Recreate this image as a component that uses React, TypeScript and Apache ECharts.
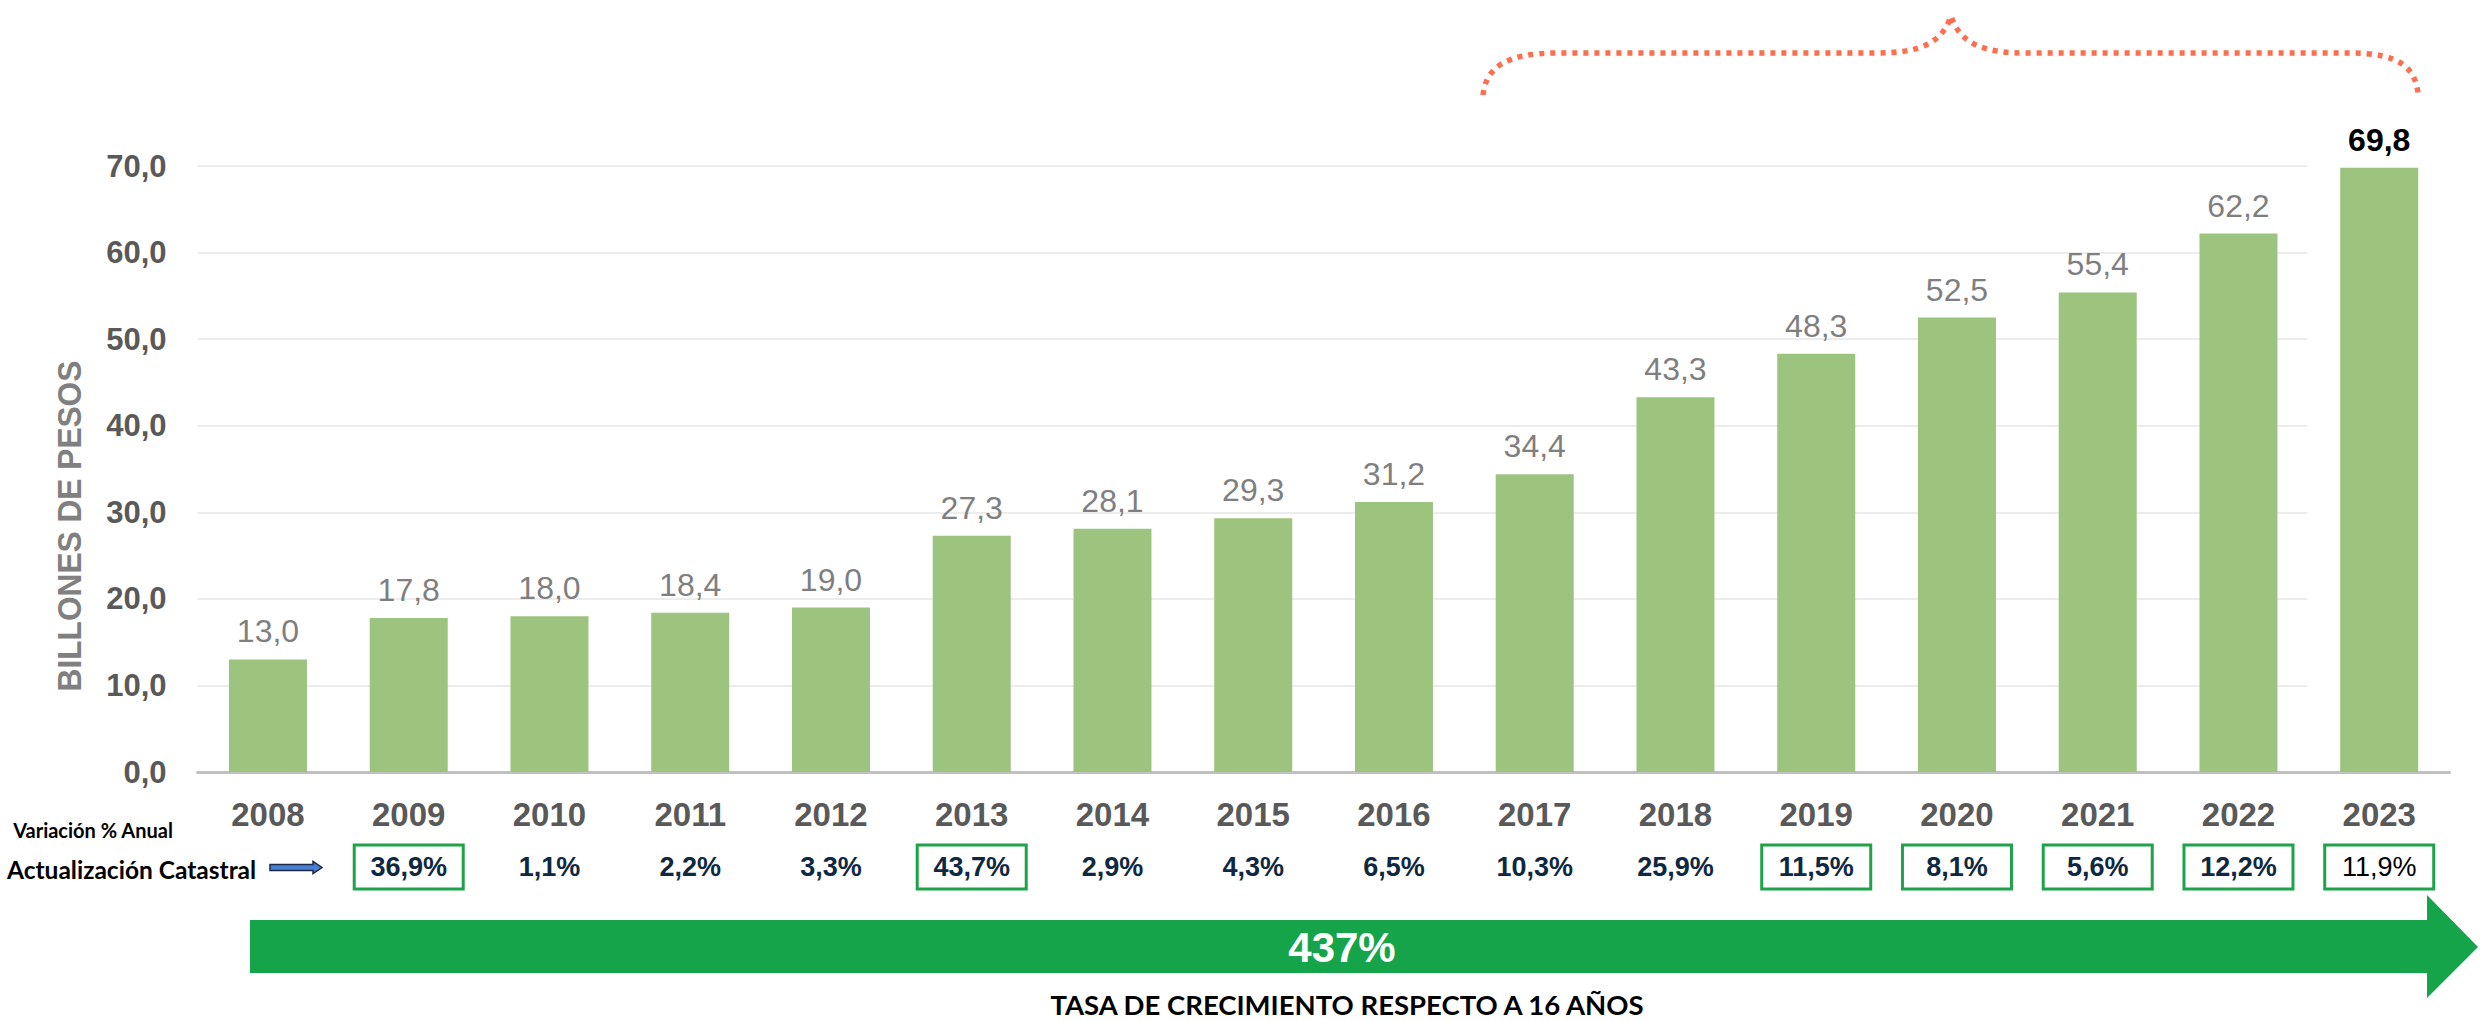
import { useEffect, useRef } from "react";
import * as echarts from "echarts";

// ---------- data ----------
const years = ["2008", "2009", "2010", "2011", "2012", "2013", "2014", "2015", "2016", "2017", "2018", "2019", "2020", "2021", "2022", "2023"];
const values = [13.0, 17.8, 18.0, 18.4, 19.0, 27.3, 28.1, 29.3, 31.2, 34.4, 43.3, 48.3, 52.5, 55.4, 62.2, 69.8];
const variation: (number | null)[] = [null, 36.9, 1.1, 2.2, 3.3, 43.7, 2.9, 4.3, 6.5, 10.3, 25.9, 11.5, 8.1, 5.6, 12.2, 11.9];
const boxedYears = ["2009", "2013", "2019", "2020", "2021", "2022", "2023"];
const highlightYear = "2023";
const yMin = 0;
const yMax = 70;
const yInterval = 10;
const yTitle = "BILLONES DE PESOS";
const rowTitle1 = "Variación % Anual";
const rowTitle2 = "Actualización Catastral";
const totalGrowth = "437%";
const footer = "TASA DE CRECIMIENTO RESPECTO A 16 AÑOS";

const fmt = (v: number) => v.toFixed(1).replace(".", ",");

const BRACE_D =
  "M1483,95 C1486,68 1505,53 1558,53 L1876,53 C1918,53 1942,44 1951,16 C1960,44 1984,53 2026,53 L2350,53 C2400,53 2415,68 2418,93";
echarts.graphic.registerShape("brace", echarts.graphic.extendPath(BRACE_D, {}));

const FONT = "'Liberation Sans', Arial, sans-serif";
const CAL = "Lato, 'Open Sans', sans-serif";

export default function App() {
  const ref = useRef<HTMLDivElement>(null);
  useEffect(() => {
    if (!ref.current) return;
    const chart = echarts.init(ref.current, null, { renderer: "svg" });
    const gridLeft = 197.6;
    const gridRight = 31.4;
    const gridTop = 166;
    const gridBottom = 249;
    chart.setOption({
      animation: false,
      backgroundColor: "#ffffff",
      textStyle: { fontFamily: FONT },
      grid: [
        { left: gridLeft, right: gridRight, top: gridTop, bottom: gridBottom },
        { left: gridLeft, right: 174, top: gridTop, bottom: gridBottom },
      ],
      xAxis: [
        {
          type: "category",
          gridIndex: 0,
          data: years,
          axisLine: { show: true, lineStyle: { color: "#c0c0c0", width: 3 } },
          axisTick: { show: false },
          axisLabel: {
            interval: 0,
            margin: 26,
            fontSize: 33,
            fontWeight: "bold",
            color: "#595959",
            fontFamily: FONT,
          },
        },
        {
          type: "category",
          gridIndex: 0,
          position: "bottom",
          offset: 60,
          data: years,
          axisLine: { show: false },
          axisTick: { show: false },
          axisLabel: {
            interval: 0,
            margin: 13,
            formatter: (val: string, idx: number) => {
              const v = variation[idx];
              if (v === null || v === undefined) return "";
              const t = fmt(v) + "%";
              if (val === highlightYear) return "{hbox|" + t + "}";
              if (boxedYears.includes(val)) return "{box|" + t + "}";
              return "{plain|" + t + "}";
            },
            rich: {
              box: {
                width: 109,
                height: 44,
                lineHeight: 44,
                align: "center",
                borderColor: "#1fa34a",
                borderWidth: 3,
                fontSize: 27,
                fontWeight: "bold",
                color: "#0e2841",
                fontFamily: FONT,
              },
              hbox: {
                width: 109,
                height: 44,
                lineHeight: 44,
                align: "center",
                borderColor: "#1fa34a",
                borderWidth: 3,
                fontSize: 27,
                fontWeight: "normal",
                color: "#000000",
                fontFamily: FONT,
              },
              plain: {
                height: 44,
                lineHeight: 44,
                align: "center",
                fontSize: 27,
                fontWeight: "bold",
                color: "#0e2841",
                fontFamily: FONT,
              },
            },
          },
        },
        { type: "value", gridIndex: 1, min: 0, max: 1, show: false },
      ],
      yAxis: [
        {
          type: "value",
          gridIndex: 0,
          min: yMin,
          max: yMax,
          interval: yInterval,
          splitLine: { show: false },
          axisLine: { show: false },
          axisTick: { show: false },
          axisLabel: {
            margin: 31,
            fontSize: 31,
            fontWeight: "bold",
            color: "#595959",
            fontFamily: FONT,
            formatter: (v: number) => fmt(v),
          },
        },
        {
          type: "value",
          gridIndex: 1,
          min: yMin,
          max: yMax,
          interval: yInterval,
          axisLine: { show: false },
          axisTick: { show: false },
          axisLabel: { show: false },
          splitLine: { show: true, lineStyle: { color: "#ececec", width: 2 } },
        },
      ],
      series: [
        {
          type: "bar",
          xAxisIndex: 0,
          yAxisIndex: 0,
          barWidth: 78,
          itemStyle: { color: "#9cc47e" },
          label: {
            show: true,
            position: "top",
            distance: 12,
            fontSize: 32,
            color: "#7f7f7f",
            fontFamily: FONT,
            formatter: (p: any) => fmt(p.value),
          },
          data: values.map((v, i) =>
            years[i] === highlightYear
              ? { value: v, label: { color: "#000000", fontWeight: "bold", fontSize: 32 } }
              : v
          ),
        },
      ],
      graphic: [
        {
          type: "text",
          x: 70,
          y: 526,
          rotation: Math.PI / 2,
          scaleX: 0.96,
          style: {
            text: yTitle,
            fontSize: 33,
            fontWeight: "bold",
            fontFamily: FONT,
            fill: "#808080",
            align: "center",
            verticalAlign: "middle",
          },
        },
        {
          type: "text",
          x: 93,
          y: 830,
          style: {
            text: rowTitle1,
            fontSize: 20,
            fontWeight: "bold",
            fontFamily: CAL,
            fill: "#000000",
            align: "center",
            verticalAlign: "middle",
          },
        },
        {
          type: "text",
          x: 7,
          y: 869,
          style: {
            text: rowTitle2,
            fontSize: 24.5,
            fontWeight: "bold",
            fontFamily: CAL,
            fill: "#000000",
            align: "left",
            verticalAlign: "middle",
          },
        },
        {
          type: "polygon",
          shape: {
            points: [
              [270, 864.5],
              [313, 864.5],
              [313, 861.5],
              [322, 867.5],
              [313, 873.5],
              [313, 870.5],
              [270, 870.5],
            ],
          },
          style: { fill: "#4a7fd0", stroke: "#1b2a4a", lineWidth: 1.5 },
        },
        {
          type: "polygon",
          shape: {
            points: [
              [250, 920],
              [2427, 920],
              [2427, 895],
              [2478, 947],
              [2427, 998],
              [2427, 973],
              [250, 973],
            ],
          },
          style: { fill: "#15a44a" },
        },
        {
          type: "text",
          x: 1342,
          y: 947,
          style: {
            text: totalGrowth,
            fontSize: 42,
            fontWeight: "bold",
            fontFamily: FONT,
            fill: "#ffffff",
            align: "center",
            verticalAlign: "middle",
          },
        },
        {
          type: "text",
          x: 1347,
          y: 1004,
          style: {
            text: footer,
            fontSize: 27.5,
            fontWeight: "bold",
            fontFamily: CAL,
            fill: "#000000",
            align: "center",
            verticalAlign: "middle",
          },
        },
        {
          type: "brace",
          x: 0,
          y: 0,
          style: { fill: "none", stroke: "#fb6e4e", lineWidth: 5.5, lineDash: [5, 6] },
        },
      ],
    });
    return () => chart.dispose();
  }, []);
  return (
    <div
      ref={ref}
      style={{ position: "fixed", left: 0, top: 0, width: 2481, height: 1021 }}
    />
  );
}
